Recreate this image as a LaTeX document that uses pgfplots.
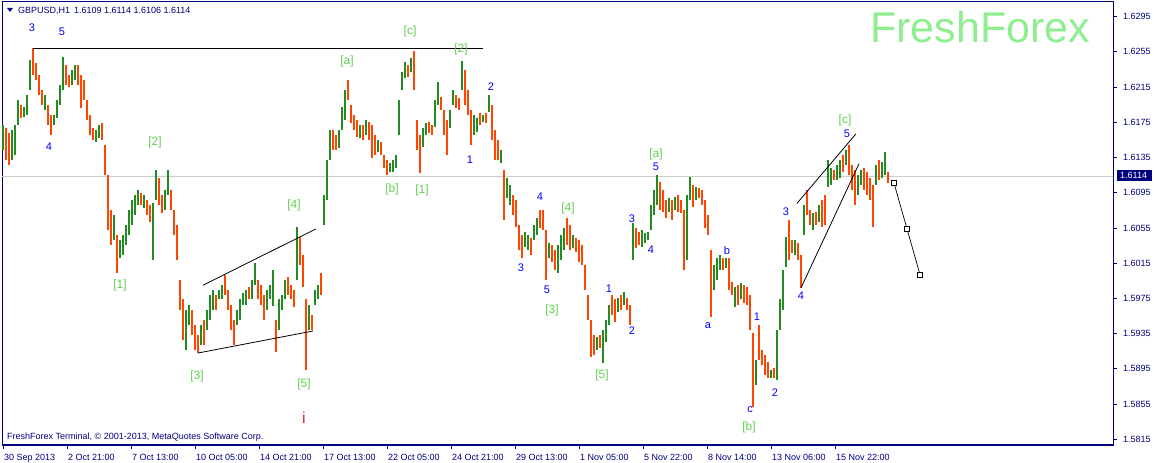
\documentclass[border=0pt]{standalone}
\usepackage{fontspec}
\setmainfont{Liberation Sans}
\usepackage{pgfplots}
\usepackage{pgfplotstable}
\pgfplotsset{compat=1.18}
\definecolor{navy}{RGB}{0,0,128}
\definecolor{cgreen}{RGB}{34,139,34}
\definecolor{corange}{RGB}{255,69,0}
\definecolor{wblue}{RGB}{0,0,255}
\definecolor{wgreen}{RGB}{100,205,85}
\definecolor{lgreen}{RGB}{144,238,144}
\definecolor{lgray}{RGB}{205,205,205}
\definecolor{wred}{RGB}{230,30,50}

\pgfplotstableread{
x lo hi
3 1.6144 1.6172
12 1.6132 1.6166
15 1.6138 1.6172
18 1.6172 1.6200
24 1.6181 1.6192
27 1.6183 1.6206
30 1.6212 1.6246
45 1.6189 1.6206
54 1.6172 1.6183
57 1.6180 1.6200
60 1.6195 1.6217
63 1.6212 1.6249
72 1.6217 1.6234
75 1.6223 1.6240
96 1.6153 1.6166
99 1.6157 1.6172
114 1.6041 1.6070
120 1.6021 1.6041
123 1.6024 1.6047
126 1.6036 1.6058
129 1.6047 1.6075
132 1.6058 1.6087
135 1.6070 1.6093
138 1.6081 1.6098
144 1.6078 1.6093
153 1.6019 1.6083
156 1.6087 1.6121
165 1.6075 1.6098
168 1.6093 1.6121
186 1.5916 1.5962
189 1.5945 1.5968
201 1.5922 1.5945
207 1.5939 1.5962
210 1.5950 1.5979
213 1.5962 1.5985
219 1.5974 1.5985
222 1.5974 1.5990
237 1.5945 1.5962
240 1.5950 1.5974
243 1.5968 1.5981
246 1.5968 1.5985
252 1.5974 1.5996
255 1.5990 1.6015
267 1.5962 1.5985
270 1.5974 1.5990
273 1.5966 1.6007
279 1.5939 1.5974
282 1.5962 1.5979
285 1.5974 1.5996
297 1.5996 1.6056
309 1.5939 1.5968
315 1.5968 1.5985
318 1.5974 1.5990
324 1.6058 1.6093
327 1.6087 1.6132
330 1.6132 1.6166
339 1.6146 1.6166
342 1.6166 1.6192
345 1.6178 1.6212
360 1.6157 1.6172
366 1.6161 1.6178
378 1.6141 1.6155
390 1.6119 1.6129
393 1.6119 1.6132
396 1.6123 1.6138
399 1.6161 1.6200
402 1.6212 1.6232
405 1.6225 1.6244
411 1.6232 1.6248
423 1.6147 1.6169
426 1.6161 1.6174
435 1.6170 1.6200
438 1.6195 1.6221
450 1.6169 1.6189
453 1.6195 1.6212
462 1.6212 1.6245
474 1.6161 1.6183
477 1.6164 1.6180
483 1.6175 1.6183
489 1.6187 1.6206
501 1.6129 1.6144
507 1.6089 1.6112
510 1.6081 1.6104
525 1.6033 1.6050
528 1.6030 1.6047
534 1.6041 1.6058
537 1.6047 1.6066
549 1.6021 1.6038
558 1.6004 1.6036
561 1.6019 1.6047
564 1.6030 1.6055
573 1.6032 1.6047
597 1.5916 1.5931
603 1.5902 1.5939
606 1.5925 1.5950
609 1.5945 1.5968
618 1.5960 1.5975
624 1.5968 1.5982
633 1.6019 1.6061
642 1.6033 1.6053
645 1.6038 1.6049
648 1.6041 1.6050
651 1.6053 1.6081
654 1.6070 1.6098
657 1.6081 1.6115
669 1.6073 1.6089
675 1.6075 1.6090
687 1.6019 1.6093
690 1.6087 1.6113
696 1.6087 1.6102
714 1.5985 1.6013
717 1.5996 1.6021
720 1.6007 1.6024
726 1.6010 1.6021
735 1.5965 1.5988
741 1.5974 1.5993
756 1.5877 1.5905
771 1.5885 1.5894
777 1.5882 1.5939
780 1.5939 1.5974
783 1.5962 1.6007
786 1.6011 1.6045
795 1.6024 1.6041
804 1.6047 1.6081
813 1.6053 1.6072
819 1.6062 1.6081
828 1.6102 1.6132
831 1.6104 1.6123
837 1.6110 1.6127
840 1.6112 1.6132
846 1.6127 1.6144
858 1.6093 1.6115
861 1.6104 1.6121
876 1.6104 1.6127
882 1.6112 1.6130
885 1.6115 1.6141
}\upbars

\pgfplotstableread{
x lo hi
6 1.6132 1.6169
9 1.6127 1.6163
21 1.6180 1.6195
33 1.6229 1.6259
36 1.6223 1.6242
39 1.6206 1.6229
42 1.6195 1.6212
48 1.6172 1.6195
51 1.6161 1.6183
66 1.6217 1.6240
69 1.6215 1.6229
78 1.6217 1.6240
81 1.6191 1.6229
84 1.6200 1.6223
87 1.6178 1.6200
90 1.6161 1.6183
93 1.6155 1.6169
102 1.6155 1.6174
105 1.6115 1.6149
108 1.6053 1.6115
111 1.6036 1.6075
117 1.6004 1.6047
141 1.6081 1.6095
147 1.6070 1.6087
150 1.6062 1.6081
159 1.6081 1.6112
162 1.6072 1.6093
171 1.6075 1.6098
174 1.6047 1.6075
177 1.6019 1.6058
180 1.5962 1.5996
183 1.5928 1.5974
192 1.5934 1.5962
195 1.5916 1.5945
198 1.5913 1.5934
204 1.5922 1.5950
216 1.5962 1.5979
225 1.5979 1.6002
228 1.5962 1.5985
231 1.5939 1.5968
234 1.5922 1.5950
249 1.5974 1.5988
258 1.5974 1.5996
261 1.5968 1.5990
264 1.5950 1.5979
276 1.5914 1.5950
288 1.5979 1.5999
291 1.5974 1.5990
294 1.5965 1.5985
300 1.6013 1.6045
303 1.5988 1.6024
306 1.5894 1.5974
312 1.5939 1.5956
321 1.5979 1.6004
333 1.6144 1.6166
336 1.6144 1.6161
348 1.6200 1.6223
351 1.6174 1.6195
354 1.6166 1.6183
357 1.6158 1.6178
363 1.6155 1.6172
369 1.6155 1.6175
372 1.6135 1.6172
375 1.6138 1.6161
381 1.6138 1.6153
384 1.6123 1.6138
387 1.6115 1.6132
408 1.6227 1.6240
414 1.6212 1.6256
417 1.6144 1.6178
420 1.6117 1.6161
429 1.6163 1.6175
432 1.6161 1.6172
441 1.6189 1.6204
444 1.6161 1.6189
447 1.6138 1.6178
456 1.6191 1.6206
459 1.6189 1.6203
465 1.6195 1.6234
468 1.6183 1.6212
471 1.6149 1.6189
480 1.6172 1.6186
486 1.6174 1.6186
492 1.6155 1.6195
495 1.6132 1.6166
498 1.6132 1.6155
504 1.6064 1.6121
513 1.6070 1.6093
516 1.6056 1.6087
519 1.6030 1.6058
522 1.6021 1.6047
531 1.6024 1.6044
540 1.6055 1.6075
543 1.6053 1.6075
546 1.5996 1.6053
552 1.6016 1.6036
555 1.6007 1.6030
567 1.6036 1.6066
570 1.6030 1.6058
576 1.6028 1.6044
579 1.6016 1.6041
582 1.6013 1.6036
585 1.5985 1.6013
588 1.5950 1.5979
591 1.5908 1.5950
594 1.5911 1.5934
600 1.5919 1.5934
612 1.5956 1.5979
615 1.5948 1.5974
621 1.5962 1.5979
627 1.5962 1.5975
630 1.5945 1.5968
636 1.6032 1.6055
639 1.6036 1.6050
660 1.6075 1.6107
663 1.6073 1.6098
666 1.6066 1.6087
672 1.6064 1.6087
678 1.6073 1.6093
681 1.6072 1.6087
684 1.6007 1.6075
693 1.6079 1.6104
699 1.6089 1.6100
702 1.6081 1.6098
705 1.6055 1.6087
708 1.6047 1.6070
711 1.5954 1.6030
723 1.6007 1.6021
729 1.5985 1.6021
732 1.5979 1.5994
738 1.5968 1.5990
744 1.5970 1.5990
747 1.5968 1.5988
750 1.5939 1.5979
753 1.5852 1.5936
759 1.5905 1.5945
762 1.5899 1.5916
765 1.5888 1.5911
768 1.5885 1.5903
774 1.5885 1.5896
789 1.6019 1.6064
792 1.6027 1.6041
798 1.6019 1.6038
801 1.5987 1.6024
807 1.6070 1.6098
810 1.6058 1.6075
816 1.6058 1.6073
822 1.6056 1.6087
825 1.6058 1.6093
834 1.6110 1.6121
843 1.6119 1.6138
849 1.6115 1.6149
852 1.6098 1.6127
855 1.6081 1.6121
864 1.6098 1.6123
867 1.6093 1.6119
870 1.6087 1.6112
873 1.6056 1.6104
879 1.6110 1.6132
888 1.6106 1.6119
}\downbars

\begin{document}
\begin{tikzpicture}
\useasboundingbox (-2pt,-18pt) rectangle (1152pt,445pt);
\begin{axis}[
  at={(0pt,0pt)}, anchor=south west,
  scale only axis, width=1111pt, height=443pt,
  xmin=2, xmax=1113, ymin=1.580853, ymax=1.631166,
  clip=false,
  axis line style={draw=navy, line width=1pt},
  tick align=outside, major tick length=4pt,
  tick style={draw=navy, line width=0.8pt},
  xtick pos=left, ytick pos=right,
  xticklabel pos=left, yticklabel pos=right,
  xtick={3,67,131,195,259,323,387,451,515,579,643,707,771,835},
  xticklabels={30 Sep 2013,2 Oct 21:00,7 Oct 13:00,10 Oct 05:00,14 Oct 21:00,17 Oct 13:00,22 Oct 05:00,24 Oct 21:00,29 Oct 13:00,1 Nov 05:00,5 Nov 22:00,8 Nov 14:00,13 Nov 06:00,15 Nov 22:00},
  ytick={1.5815,1.5855,1.5895,1.5935,1.5975,1.6015,1.6055,1.6095,1.6135,1.6175,1.6215,1.6255,1.6295},
  yticklabels={1.5815,1.5855,1.5895,1.5935,1.5975,1.6015,1.6055,1.6095,1.6135,1.6175,1.6215,1.6255,1.6295},
  tick label style={font=\fontsize{9}{10}\selectfont, text=navy, inner sep=0pt},
  xticklabel style={anchor=north west, xshift=1pt, yshift=-5pt},
  yticklabel style={anchor=west, xshift=6pt},
]
% current price line
\addplot[lgray, line width=1pt, mark=none] coordinates {(2,1.6114) (1113,1.6114)};

% candles
\addplot[draw=none, mark=none, line width=2.3pt, error bars/.cd, y dir=plus, y explicit, error mark=none,
  error bar style={draw=cgreen, line width=2.3pt}]
  table[x=x, y=lo, y error plus expr=\thisrow{hi}-\thisrow{lo}] {\upbars};
\addplot[draw=none, mark=none, line width=2.3pt, error bars/.cd, y dir=plus, y explicit, error mark=none,
  error bar style={draw=corange, line width=2.3pt}]
  table[x=x, y=lo, y error plus expr=\thisrow{hi}-\thisrow{lo}] {\downbars};

% trend lines
\addplot[black, line width=0.8pt, mark=none] coordinates {(33,1.6259) (483,1.6259)};
\addplot[black, line width=0.8pt, mark=none] coordinates {(203,1.5990) (316,1.6054)};
\addplot[black, line width=0.8pt, mark=none] coordinates {(198,1.5913) (313,1.5938)};
\addplot[black, line width=0.8pt, mark=none] coordinates {(797,1.6083) (856,1.6162)};
\addplot[black, line width=0.8pt, mark=none] coordinates {(801,1.5987) (859,1.6128)};
% projection
\addplot[black, line width=0.7pt, mark=square*, mark size=2.5pt,
  mark options={fill=white, draw=black, line width=0.7pt, solid}]
  coordinates {(894,1.6106) (907,1.6054) (920,1.6002)};

% blue wave labels
\begin{scope}[every node/.style={text=wblue, font=\fontsize{11}{12}\selectfont, inner sep=0pt}]
\node at (axis cs:32,1.6282) {3};
\node at (axis cs:62,1.6278) {5};
\node at (axis cs:49,1.6147) {4};
\node at (axis cs:470,1.6132) {1};
\node at (axis cs:491,1.6216) {2};
\node at (axis cs:521,1.6010) {3};
\node at (axis cs:540,1.6090) {4};
\node at (axis cs:547,1.5985) {5};
\node at (axis cs:609,1.5986) {1};
\node at (axis cs:632,1.5938) {2};
\node at (axis cs:632,1.6066) {3};
\node at (axis cs:651,1.6030) {4};
\node at (axis cs:656,1.6124) {5};
\node at (axis cs:708,1.5944) {a};
\node at (axis cs:727,1.6029) {b};
\node at (axis cs:750,1.5849) {c};
\node at (axis cs:757,1.5954) {1};
\node at (axis cs:775,1.5868) {2};
\node at (axis cs:786,1.6073) {3};
\node at (axis cs:801,1.5978) {4};
\node at (axis cs:847,1.6162) {5};
\end{scope}

% green wave labels
\begin{scope}[every node/.style={text=wgreen, font=\fontsize{12}{13}\selectfont, inner sep=0pt}]
\node at (axis cs:155,1.6152) {[2]};
\node at (axis cs:120,1.5990) {[1]};
\node at (axis cs:197,1.5886) {[3]};
\node at (axis cs:294,1.6081) {[4]};
\node at (axis cs:304,1.5877) {[5]};
\node at (axis cs:347,1.6244) {[a]};
\node at (axis cs:410,1.6278) {[c]};
\node at (axis cs:461,1.6258) {[2]};
\node at (axis cs:392,1.6099) {[b]};
\node at (axis cs:422,1.6098) {[1]};
\node at (axis cs:552,1.5961) {[3]};
\node at (axis cs:568,1.6077) {[4]};
\node at (axis cs:602,1.5888) {[5]};
\node at (axis cs:656,1.6139) {[a]};
\node at (axis cs:845,1.6177) {[c]};
\node at (axis cs:749,1.5829) {[b]};
\end{scope}
\node[text=wred, font=\fontsize{16}{17}\selectfont, inner sep=0pt] at (axis cs:304,1.5840) {i};
\end{axis}

% title and texts
\fill[navy] (5pt,437pt) -- (11pt,437pt) -- (8pt,433pt) -- cycle;
\node[anchor=west, inner sep=0pt, text=navy, font=\fontsize{9}{10}\selectfont] at (16pt,434.5pt) {GBPUSD,H1\hspace{4pt}1.6109 1.6114 1.6106 1.6114};
\node[anchor=west, inner sep=0pt, text=navy, font=\fontsize{9}{10}\selectfont] at (5pt,8pt) {FreshForex Terminal, © 2001-2013, MetaQuotes Software Corp.};
\node[anchor=base west, inner sep=0pt, text=lgreen, font=\fontsize{43}{45}\selectfont] at (868pt,402pt) {FreshForex};
% current price tag
\fill[navy] (1115pt,264.3pt) rectangle (1150pt,274.8pt);
\node[anchor=west, inner sep=0pt, text=white, font=\fontsize{9}{10}\selectfont] at (1118pt,269.5pt) {1.6114};
\end{tikzpicture}
\end{document}
